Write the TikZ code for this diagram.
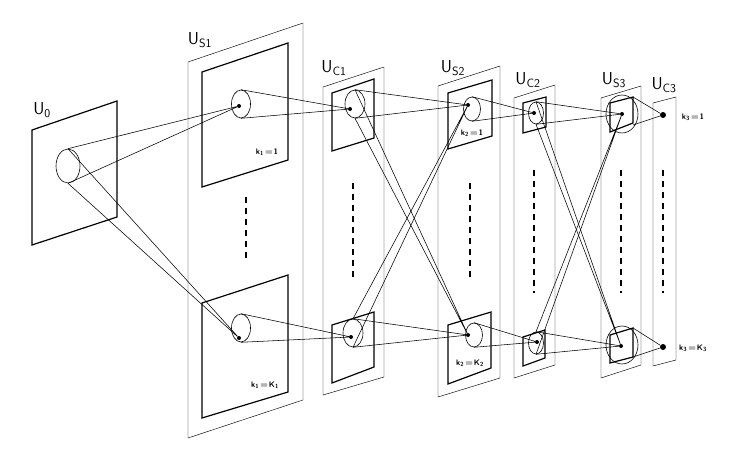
\documentclass[tikz,border=0pt]{standalone}
\usepackage{amsmath}
\usetikzlibrary{shapes.geometric}
\tikzset{
  outer/.style={draw, line width=0.45pt},
  inner/.style={draw, line width=1.2pt},
  field/.style={draw, ellipse, line width=0.6pt, inner sep=0pt},
  cell/.style={circle, fill, inner sep=0pt, minimum size=4pt},
  layer/.style={font=\sffamily\LARGE, inner sep=0pt},
  klab/.style={font=\sffamily\footnotesize\bfseries, inner sep=0pt},
  dots/.style={line width=1.2pt, dash pattern=on 6pt off 5pt}
}
\newcommand{\cone}[2]{\draw [line width=0.55pt] (#1.north) -- (#2) (#1.south) -- (#2);}
\begin{document}
\begin{tikzpicture}[x=1pt, y=-1pt]
    \useasboundingbox (0,0) rectangle (740,455);
    % layer planes
    \draw [inner] (32,130) -- (117,101) -- (117,217) -- (32,245) -- cycle;
    \draw [outer] (188,62) -- (303,23) -- (303,400) -- (188,438) -- cycle;
    \draw [inner] (202,72) -- (288,43) -- (288,160) -- (202,187) -- cycle;
    \draw [inner] (202,303) -- (288,275) -- (288,392) -- (202,418) -- cycle;
    \draw [outer] (323,87) -- (384,67) -- (384,377) -- (323,395) -- cycle;
    \draw [inner] (332,93) -- (374,79) -- (374,138) -- (332,151) -- cycle;
    \draw [inner] (332,325) -- (374,312) -- (374,367) -- (332,383) -- cycle;
    \draw [outer] (438,86) -- (500,66) -- (500,378) -- (438,397) -- cycle;
    \draw [inner] (448,93) -- (492,80) -- (492,136) -- (448,149) -- cycle;
    \draw [inner] (448,325) -- (491,312) -- (491,368) -- (448,384) -- cycle;
    \draw [outer] (514,98) -- (555,85) -- (555,365) -- (514,378) -- cycle;
    \draw [inner] (523,103) -- (546,97) -- (546,127) -- (523,133) -- cycle;
    \draw [inner] (523,337) -- (545,330) -- (545,358) -- (523,366) -- cycle;
    \draw [outer] (601,98) -- (641,86) -- (641,365) -- (601,378) -- cycle;
    \draw [outer] (653,103) -- (676,97) -- (676,360) -- (653,366) -- cycle;
    % labels
    \node [layer] (l0) at (42,110) {$\mathsf{U_0}$};
    \node [layer] (ls1) at (200,40) {$\mathsf{U_{S1}}$};
    \node [layer] (lc1) at (334,68) {$\mathsf{U_{C1}}$};
    \node [layer] (ls2) at (453,68) {$\mathsf{U_{S2}}$};
    \node [layer] (lc2) at (528,80) {$\mathsf{U_{C2}}$};
    \node [layer] (ls3) at (614,80) {$\mathsf{U_{S3}}$};
    \node [layer] (lc3) at (664,85) {$\mathsf{U_{C3}}$};
    \node [klab] (k1a) at (267,152) {$\boldsymbol{\mathsf{k_1\!=\!1}}$};
    \node [klab] (k1b) at (265,385) {$\boldsymbol{\mathsf{k_1\!=\!K_1}}$};
    \node [klab] (k2a) at (472,133) {$\boldsymbol{\mathsf{k_2\!=\!1}}$};
    \node [klab] (k2b) at (470,363) {$\boldsymbol{\mathsf{k_2\!=\!K_2}}$};
    \node [klab] (k3a) at (693,117) {$\boldsymbol{\mathsf{k_3\!=\!1}}$};
    \node [klab] (k3b) at (693,348) {$\boldsymbol{\mathsf{k_3\!=\!K_3}}$};
    % omitted planes
    \foreach \x/\a/\b in {246/197/260, 353/183/277, 470/183/278, 534/170/293, 621/170/293, 663/170/293}
        \draw [dots] (\x,\a) -- (\x,\b);
    % receptive fields and cells
    \node [field, minimum width=24pt, minimum height=34pt] (f0) at (68,166) {};
    \node [field, minimum width=19pt, minimum height=28pt] (fs1a) at (241,104) {};
    \node [field, minimum width=19pt, minimum height=28pt] (fs1b) at (241,328) {};
    \node [field, minimum width=20pt, minimum height=28pt] (fc1a) at (355,104) {};
    \node [field, minimum width=20pt, minimum height=28pt] (fc1b) at (353,333) {};
    \node [field, minimum width=17pt, minimum height=24pt] (fs2a) at (472,109) {};
    \node [field, minimum width=17pt, minimum height=24pt] (fs2b) at (474,335) {};
    \node [field, minimum width=15pt, minimum height=22pt] (fc2a) at (536,113) {};
    \node [field, minimum width=15pt, minimum height=22pt] (fc2b) at (536,343) {};
    \node [field, minimum width=32pt, minimum height=38pt] (fs3a) at (622,114) {};
    \node [field, minimum width=32pt, minimum height=38pt] (fs3b) at (622,345) {};
    \draw [inner] (610,103) -- (633,97) -- (633,123) -- (610,132) -- cycle;
    \draw [inner] (610,335) -- (633,328) -- (633,357) -- (610,363) -- cycle;
    \coordinate (qa1) at (633,97);  \coordinate (qa2) at (633,125);
    \coordinate (qb1) at (633,328); \coordinate (qb2) at (633,357);
    \node [cell] (s1a) at (239,106) {};
    \node [cell] (s1b) at (239,338) {};
    \node [cell] (c1a) at (350,109) {};
    \node [cell] (c1b) at (351,337) {};
    \node [cell] (s2a) at (468,105) {};
    \node [cell] (s2b) at (468,335) {};
    \node [cell] (c2a) at (534,113) {};
    \node [cell] (c2b) at (537,342) {};
    \node [cell] (s3a) at (622,114) {};
    \node [cell] (s3b) at (621,346) {};
    \node [cell, minimum size=6pt] (c3a) at (663,115) {};
    \node [cell, minimum size=6pt] (c3b) at (663,347) {};
    % connections
    \cone{f0}{s1a} \cone{f0}{s1b}
    \cone{fs1a}{c1a} \cone{fs1b}{c1b}
    \cone{fc1a}{s2a} \cone{fc1a}{s2b} \cone{fc1b}{s2a} \cone{fc1b}{s2b}
    \cone{fs2a}{c2a} \cone{fs2b}{c2b}
    \cone{fc2a}{s3a} \cone{fc2a}{s3b} \cone{fc2b}{s3a} \cone{fc2b}{s3b}
    \draw [line width=0.55pt] (qa1) -- (c3a) -- (qa2);
    \draw [line width=0.55pt] (qb1) -- (c3b) -- (qb2);
\end{tikzpicture}
\end{document}
